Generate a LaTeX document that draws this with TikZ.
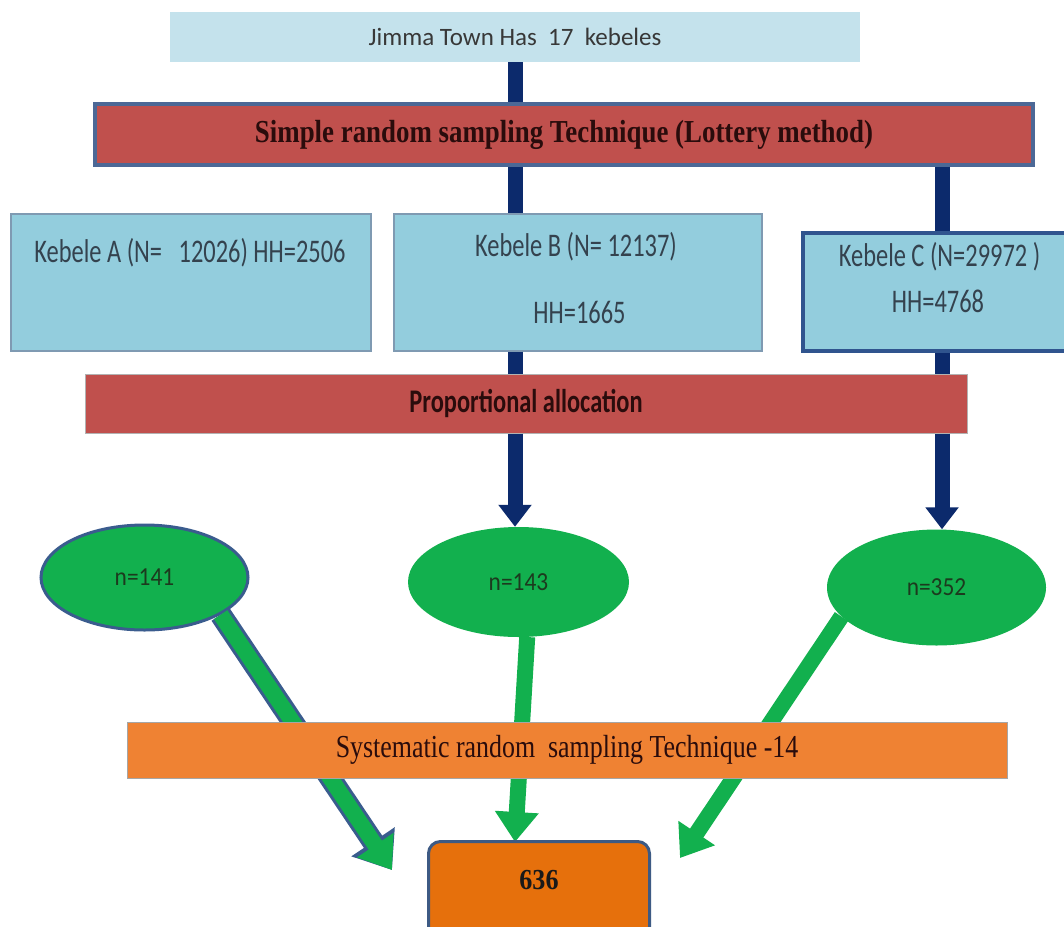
\documentclass[tikz,border=0pt]{standalone}
\usepackage{fontspec}
\setmainfont{Liberation Serif}
\newfontfamily\TopFnt{Carlito}
\newfontfamily\KebFnt[FakeStretch=0.74]{Carlito}
\newfontfamily\EllFnt[FakeStretch=0.9]{Carlito}
\newfontfamily\SimFnt[FakeStretch=0.84]{Liberation Serif}
\newfontfamily\SysFnt[FakeStretch=0.81]{Liberation Serif}
\newfontfamily\FinFnt[FakeStretch=0.9]{Liberation Serif}
\usetikzlibrary{arrows.meta,shapes.geometric,calc}
\definecolor{topblue}{HTML}{C4E2EC}
\definecolor{kblue}{HTML}{93CDDD}
\definecolor{kedge}{HTML}{7F9AB2}
\definecolor{cedge}{HTML}{30548E}
\definecolor{redf}{HTML}{C0504D}
\definecolor{rededge}{HTML}{4C6896}
\definecolor{navy}{HTML}{0C2A6C}
\definecolor{gr}{HTML}{12B04E}
\definecolor{gredge}{HTML}{3A5C8E}
\definecolor{orf}{HTML}{EF8233}
\definecolor{finf}{HTML}{E6700C}
\definecolor{finedge}{HTML}{3D5A84}
\definecolor{ktext}{HTML}{34424E}
\definecolor{ntext}{HTML}{1C3A1E}
\definecolor{rtext}{HTML}{2A0C0C}
\begin{document}
\begin{tikzpicture}[x=1pt,y=-1pt,
  box/.style={rectangle, inner sep=0pt, anchor=north west},
  kbox/.style={box, fill=kblue, draw=kedge, line width=1.5pt},
  ktxt/.style={anchor=base, inner sep=0pt, text=ktext, font=\KebFnt\fontsize{33}{40}\selectfont},
  ell/.style={ellipse, inner sep=0pt, fill=gr, text=ntext, font=\EllFnt\fontsize{26}{30}\selectfont},
  nv/.style={draw=navy, line width=15pt},
  nva/.style={nv, -{Triangle[length=22pt,width=32pt]}},
  garrow/.style={draw=gr, line width=16pt, -{Triangle[length=30pt,width=42pt]}},
  gedge/.style={preaction={draw=gredge, line width=22pt, -{Triangle[length=34pt,width=50pt]}}}
]
\useasboundingbox (0,0) rectangle (1064,926);
\clip (0,0) rectangle (1064,926);
\fill[white] (0,0) rectangle (1064,926);

% boxes
\node[box, fill=topblue, minimum width=690pt, minimum height=50pt,
  text=black!78, font=\TopFnt\fontsize{25}{30}\selectfont, anchor=center]
  (top) at (515,37) {Jimma Town Has\ \ 17\ \ kebeles};
\node[box, fill=redf, draw=rededge, line width=3.5pt, minimum width=938pt, minimum height=61pt,
  text=rtext, font=\SimFnt\bfseries\fontsize{32}{36}\selectfont, anchor=center]
  (simple) at (564,134.5) {Simple random sampling Technique (Lottery method)};
\node[kbox, minimum width=360pt, minimum height=137pt] (A) at (10,213) {};
\node[kbox, minimum width=368pt, minimum height=137pt] (B) at (393,213) {};
\node[box, fill=kblue, draw=cedge, line width=4pt, minimum width=265pt, minimum height=118pt] (C) at (801,231) {};
\node[box, fill=redf, draw=black!30, line width=1pt, minimum width=882pt, minimum height=59pt,
  text=rtext, font=\KebFnt\bfseries\fontsize{33}{40}\selectfont, anchor=center]
  (prop) at (526,403.5) {Proportional allocation};

% kebele texts
\node[ktxt] (At) at (190,262) {Kebele A (N=\ \ \ 12026) HH=2506};
\node[ktxt] (Bt1) at (576,256) {Kebele B (N= 12137)};
\node[ktxt] (Bt2) at (579.5,323) {HH=1665};
\node[ktxt] (Ct1) at (939.5,266) {Kebele C (N=29972 )};
\node[ktxt] (Ct2) at (938,312) {HH=4768};

% ellipses
\node[ell, draw=gredge, line width=3pt, minimum width=207pt, minimum height=105pt] (n141) at (144.5,577.5) {n=141};
\node[ell, minimum width=221pt, minimum height=110pt] (n143) at (518.5,582) {n=143};
\node[ell, minimum width=219pt, minimum height=116pt] (n352) at (936.5,587.5) {n=352};

% navy connectors
\coordinate (cline) at (942,0);
\draw[nv] (top.south) -- (top.south |- simple.north);
\draw[nv] (top.south |- simple.south) -- (top.south |- B.north);
\draw[nv] (simple.south -| cline) -- (C.north -| cline);
\draw[nv] (top.south |- B.south) -- (top.south |- prop.north);
\draw[nv] (C.south -| cline) -- (prop.north -| cline);
\draw[nva] (top.south |- prop.south) -- (top.south |- n143.north);
\draw[nva] (prop.south -| cline) -- (n352.north -| cline);

% green arrows
\coordinate (tipL) at (392,870);
\coordinate (tipM) at (515,842);
\coordinate (tipR) at (680,858);
\draw[garrow, gedge] (n141.-26) -- (tipL);
\draw[garrow] (n143.-81) -- (tipM);
\draw[garrow] (n352.197) -- (tipR);

% lower boxes
\node[box, fill=orf, draw=black!35, line width=1pt, minimum width=880pt, minimum height=56pt,
  text=rtext, font=\SysFnt\fontsize{32}{36}\selectfont, anchor=center]
  (sys) at (567,750) {Systematic random\ \ sampling Technique -14};
\node[box, fill=finf, draw=finedge, line width=3pt, rounded corners=12pt, minimum width=221pt,
  text height=48pt, text depth=52pt, text=black!90, font=\FinFnt\bfseries\fontsize{29}{34}\selectfont]
  (fin) at (427,840) {636};
\end{tikzpicture}
\end{document}
